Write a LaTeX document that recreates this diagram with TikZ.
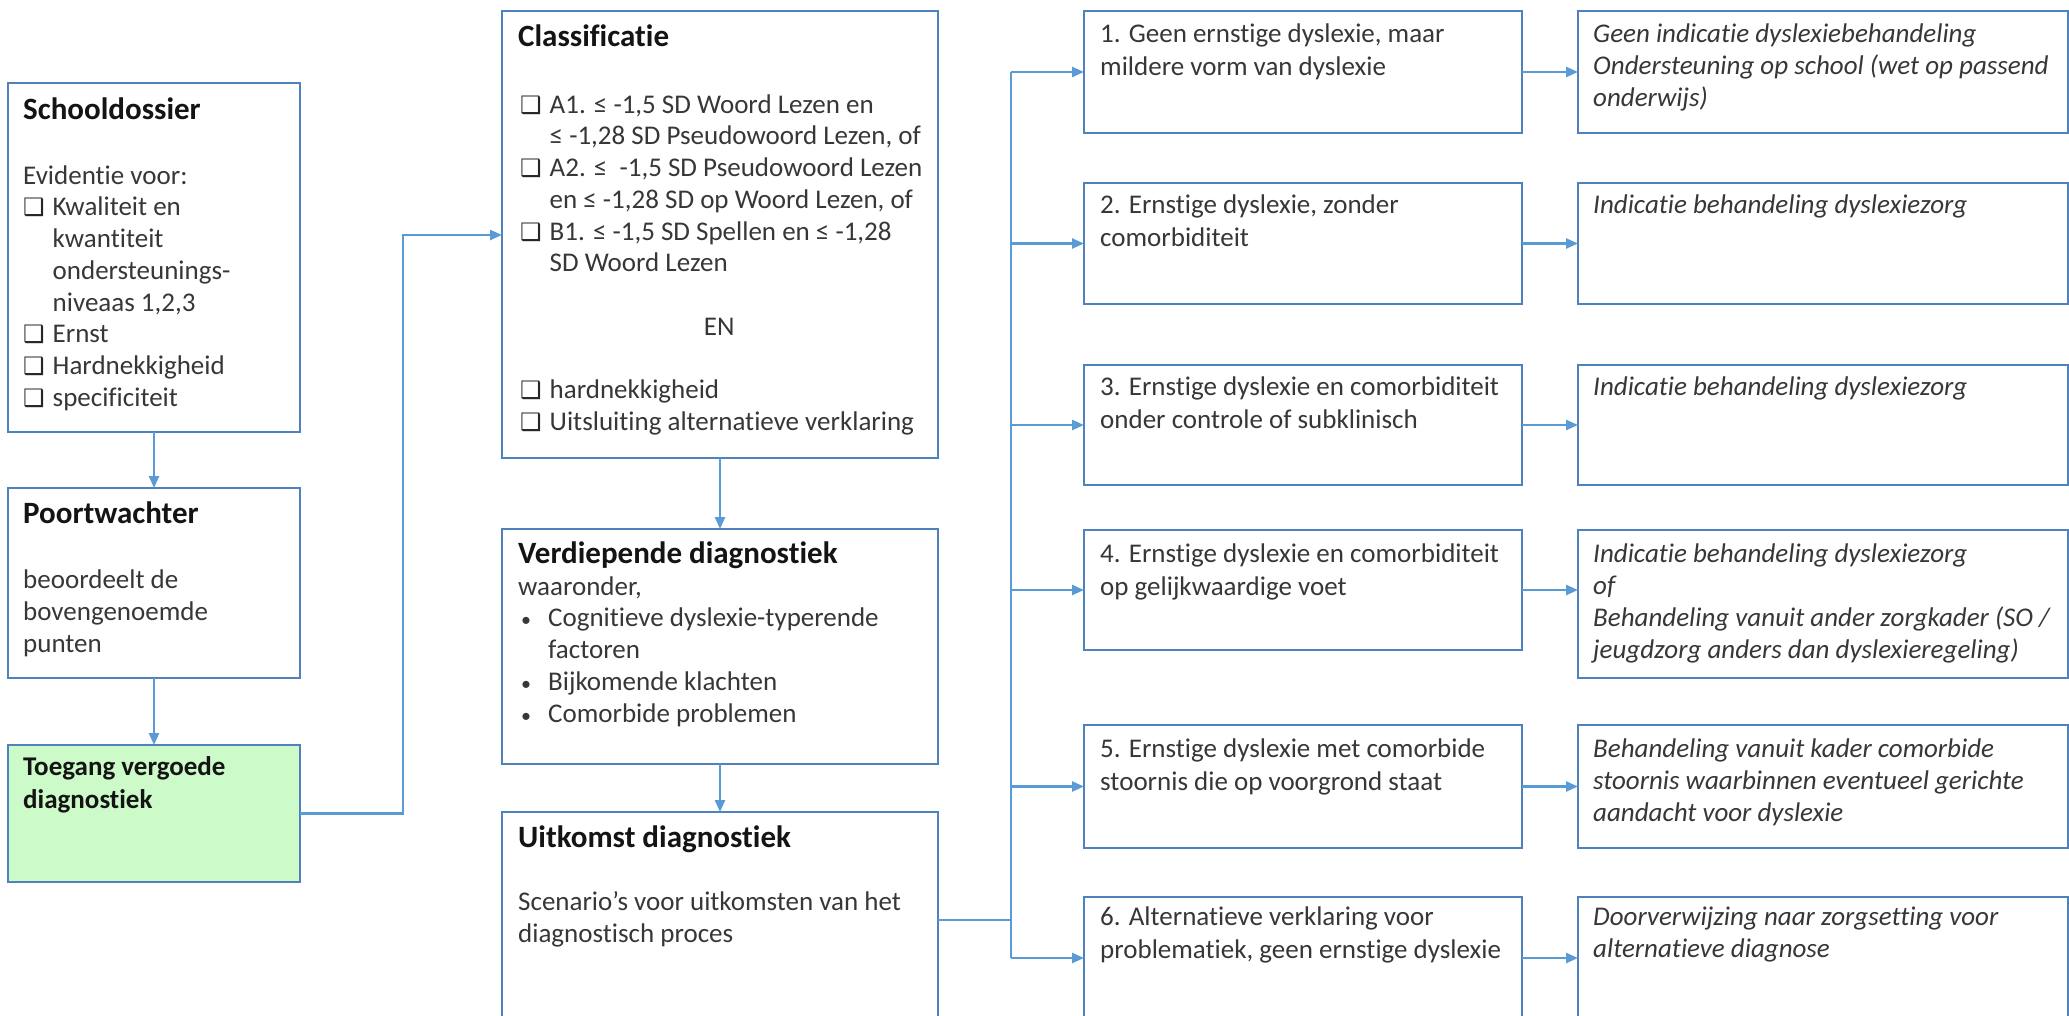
\documentclass[tikz,border=0pt]{standalone}
\usepackage{fontspec}
\setmainfont[RawFeature={-liga;-clig;-calt;-dlig}]{Carlito}
\newfontfamily\djv{DejaVu Sans}
\usetikzlibrary{arrows.meta}
\definecolor{boxblue}{RGB}{79,129,189}
\definecolor{lineblue}{RGB}{91,155,213}
\definecolor{greenfill}{RGB}{204,250,200}
\definecolor{bodytxt}{RGB}{55,55,55}
\newcommand\cbx{\makebox[29.5pt][l]{\color{black!85}\djv\fontsize{24}{24}\selectfont ❑}}
\newcommand\ind{\hspace*{29.5pt}}
\newcommand\blt{\makebox[30pt][l]{\hspace{3pt}{\fontsize{20}{20}\selectfont •}}}
\begin{document}
\begin{tikzpicture}[x=1pt,y=-1pt,
  box/.style={draw=boxblue, line width=2.6pt, fill=white, rectangle, inner sep=0pt, outer sep=0pt, anchor=north west},
  bodyt/.style={anchor=north west, inner sep=0pt, align=left, text=bodytxt, font=\fontsize{27}{#1}\selectfont, yshift={0.7*#1pt}},
  italt/.style={bodyt=#1, font=\itshape\fontsize{27}{#1}\selectfont},
  ttl/.style={anchor=base west, inner sep=0pt, text=black!92, font=\bfseries\fontsize{31}{37}\selectfont},
  conn/.style={draw=lineblue, line width=2.4pt},
  arr/.style={conn, -{Triangle[length=12pt,width=10pt]}}]
\useasboundingbox (0,0) rectangle (2069,1016);
\fill[white] (0,0) rectangle (2069,1016);

% column 1
\node[box, minimum width=292pt, minimum height=349pt] (sd) at (8,83) {};
\node[ttl] (sdt) at (23,120) {Schooldossier};
\node[bodyt=31.7] (sdb) at (23,184) {\strut Evidentie voor:\\ \cbx Kwaliteit en\\ \ind kwantiteit\\ \ind ondersteunings-\\ \ind niveaas 1,2,3\\ \cbx Ernst\\ \cbx Hardnekkigheid\\ \cbx specificiteit};

\node[box, minimum width=292pt, minimum height=190pt] (pw) at (8,488) {};
\node[ttl] (pwt) at (23,523) {Poortwachter};
\node[bodyt=32] (pwb) at (23,588) {\strut beoordeelt de\\bovengenoemde\\punten};

\node[box, fill=greenfill, minimum width=292pt, minimum height=137pt] (tg) at (8,745) {};
\node[bodyt=33, font=\bfseries\fontsize{27}{33}\selectfont, text=black!92] (tgt) at (23,775) {\strut Toegang vergoede\\diagnostiek};

% column 2
\node[box, minimum width=436pt, minimum height=447pt] (cl) at (502,11) {};
\node[ttl] (clt) at (518,47) {Classificatie};
\node[bodyt=31.7] (clb) at (520,113) {\strut\cbx A1. ≤ -1,5 SD Woord Lezen en\\ \ind ≤ -1,28 SD Pseudowoord Lezen, of\\ \cbx A2. ≤ \ -1,5 SD Pseudowoord Lezen\\ \ind en ≤ -1,28 SD op Woord Lezen, of\\ \cbx B1. ≤ -1,5 SD Spellen en ≤ -1,28\\ \ind SD Woord Lezen\\ \strut\\ \makebox[398pt][c]{EN}\\ \strut\\ \cbx hardnekkigheid\\ \cbx Uitsluiting alternatieve verklaring};

\node[box, minimum width=436pt, minimum height=235pt] (vd) at (502,529) {};
\node[ttl] (vdt) at (518,563) {Verdiepende diagnostiek};
\node[bodyt=31.7] (vdb) at (518,595) {\strut waaronder,\\ \blt Cognitieve dyslexie-typerende\\ \hspace*{30pt}factoren\\ \blt Bijkomende klachten\\ \blt Comorbide problemen};

\node[box, minimum width=436pt, minimum height=216pt] (uk) at (502,812) {};
\node[ttl] (ukt) at (518,847) {Uitkomst diagnostiek};
\node[bodyt=32] (ukb) at (518,910) {\strut Scenario’s voor uitkomsten van het\\diagnostisch proces};

% column 3
\node[box, minimum width=438pt, minimum height=122pt] (c1) at (1084,11) {};
\node[bodyt=33] (c1t) at (1100,42) {\strut 1. Geen ernstige dyslexie, maar\\mildere vorm van dyslexie};
\node[box, minimum width=438pt, minimum height=121pt] (c2) at (1084,183) {};
\node[bodyt=33] (c2t) at (1100,213) {\strut 2. Ernstige dyslexie, zonder\\comorbiditeit};
\node[box, minimum width=438pt, minimum height=120pt] (c3) at (1084,365) {};
\node[bodyt=33] (c3t) at (1100,395) {\strut 3. Ernstige dyslexie en comorbiditeit\\onder controle of subklinisch};
\node[box, minimum width=438pt, minimum height=120pt] (c4) at (1084,530) {};
\node[bodyt=33] (c4t) at (1100,562) {\strut 4. Ernstige dyslexie en comorbiditeit\\op gelijkwaardige voet};
\node[box, minimum width=438pt, minimum height=123pt] (c5) at (1084,725) {};
\node[bodyt=33] (c5t) at (1100,757) {\strut 5. Ernstige dyslexie met comorbide\\stoornis die op voorgrond staat};
\node[box, minimum width=438pt, minimum height=122pt] (c6) at (1084,897) {};
\node[bodyt=33] (c6t) at (1100,925) {\strut 6. Alternatieve verklaring voor\\problematiek, geen ernstige dyslexie};

% column 4
\node[box, minimum width=490pt, minimum height=122pt] (d1) at (1578,11) {};
\node[italt=32] (d1t) at (1593,42) {\strut Geen indicatie dyslexiebehandeling\\Ondersteuning op school (wet op passend\\onderwijs)};
\node[box, minimum width=490pt, minimum height=121pt] (d2) at (1578,183) {};
\node[italt=32] (d2t) at (1593,213) {\strut Indicatie behandeling dyslexiezorg};
\node[box, minimum width=490pt, minimum height=120pt] (d3) at (1578,365) {};
\node[italt=32] (d3t) at (1593,395) {\strut Indicatie behandeling dyslexiezorg};
\node[box, minimum width=490pt, minimum height=148pt] (d4) at (1578,530) {};
\node[italt=32] (d4t) at (1593,562) {\strut Indicatie behandeling dyslexiezorg\\of\\Behandeling vanuit ander zorgkader (SO /\\jeugdzorg anders dan dyslexieregeling)};
\node[box, minimum width=490pt, minimum height=123pt] (d5) at (1578,725) {};
\node[italt=32] (d5t) at (1593,757) {\strut Behandeling vanuit kader comorbide\\stoornis waarbinnen eventueel gerichte\\aandacht voor dyslexie};
\node[box, minimum width=490pt, minimum height=122pt] (d6) at (1578,897) {};
\node[italt=32] (d6t) at (1593,925) {\strut Doorverwijzing naar zorgsetting voor\\alternatieve diagnose};

% connectors
\draw[arr] (sd.south) -- (pw.north);
\draw[arr] (pw.south) -- (tg.north);
\coordinate (j1) at (403,235);
\draw[arr] (tg.east) -| (j1) -- (j1 -| cl.west);
\draw[arr] (cl.south) -- (vd.north);
\draw[arr] (vd.south) -- (uk.north);
\coordinate (trunk) at (1011,0);
\draw[conn] (uk.east) -- (uk.east -| trunk);
\draw[conn] (c1.west -| trunk) -- (c6.west -| trunk);
\foreach \i in {1,...,6}{
  \draw[arr] (c\i.west -| trunk) -- (c\i.west);
  \draw[arr] (c\i.east) -- (c\i.east -| d\i.west);
}
\end{tikzpicture}
\end{document}
